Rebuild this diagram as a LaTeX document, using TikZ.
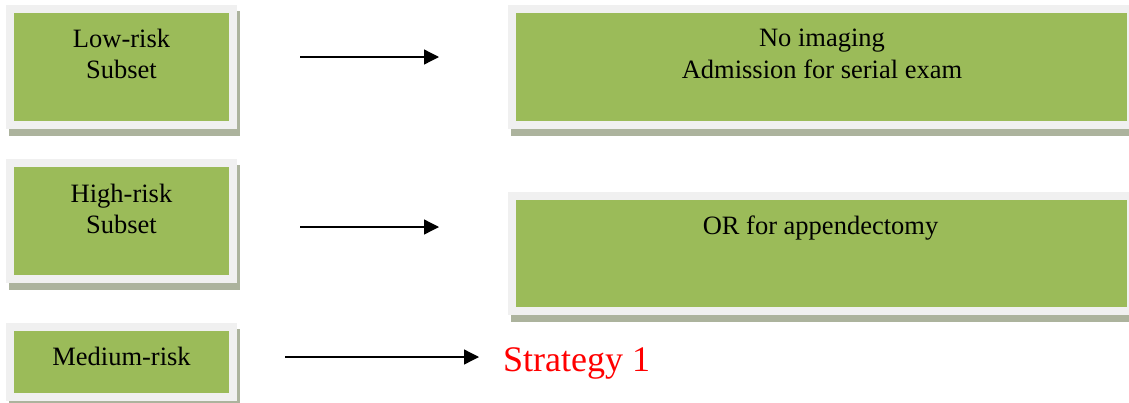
\documentclass[tikz,border=0pt]{standalone}
\usepackage{fontspec}
\setmainfont{Liberation Serif}
\usetikzlibrary{arrows.meta,calc}
\definecolor{boxgreen}{RGB}{155,187,89}
\definecolor{framegray}{RGB}{240,240,240}
\definecolor{shadowcol}{RGB}{172,179,157}
\definecolor{stratred}{RGB}{255,0,0}
\tikzset{
  gbox/.style={draw=framegray, fill=boxgreen, line width=8pt, rectangle, inner sep=0pt, outer sep=0pt},
  btext/.style={anchor=base, align=center, inner sep=0pt, font=\fontsize{26.5}{31.5}\selectfont},
  flow/.style={line width=1.3pt, -{Triangle[length=15pt,width=15pt]}}
}
\newcommand{\boxshadow}[1]{%
  \fill[shadowcol] ($(#1.north west)+(-1,2)$) rectangle ($(#1.south east)+(7,10.5)$);}
\begin{document}
\begin{tikzpicture}[x=1pt,y=-1pt]
\useasboundingbox (0,0) rectangle (1129,402);
% shadows first
\path (121.5,67) node[gbox, minimum width=223pt, minimum height=116pt, draw=none, fill=none] (lowS) {};
\path (821.5,67) node[gbox, minimum width=619pt, minimum height=116pt, draw=none, fill=none] (noimgS) {};
\path (121.5,221) node[gbox, minimum width=223pt, minimum height=116pt, draw=none, fill=none] (highS) {};
\path (821.5,253.5) node[gbox, minimum width=619pt, minimum height=115pt, draw=none, fill=none] (orS) {};
\path (121.5,362) node[gbox, minimum width=223pt, minimum height=70pt, draw=none, fill=none] (medS) {};
\boxshadow{lowS}
\boxshadow{noimgS}
\boxshadow{highS}
\boxshadow{orS}
\boxshadow{medS}
% boxes
\node[gbox, minimum width=223pt, minimum height=116pt] (low) at (121.5,67) {};
\node[gbox, minimum width=619pt, minimum height=116pt] (noimg) at (821.5,67) {};
\node[gbox, minimum width=223pt, minimum height=116pt] (high) at (121.5,221) {};
\node[gbox, minimum width=619pt, minimum height=115pt] (or) at (821.5,253.5) {};
\node[gbox, minimum width=223pt, minimum height=70pt] (med) at (121.5,362) {};
% texts (base anchor = baseline of last line)
\node[btext] (lowtxt) at (121.5,78.5) {Low-risk\\Subset};
\node[btext] (noimgtxt) at (822,78) {No imaging\\Admission for serial exam};
\node[btext] (hightxt) at (121.5,233.5) {High-risk\\Subset};
\node[btext] (ortxt) at (820.5,234) {OR for appendectomy};
\node[btext] (medtxt) at (121.5,365) {Medium-risk};
\node[anchor=base west, inner sep=0pt, text=stratred, font=\fontsize{36}{43}\selectfont] (strat) at (503,371) {Strategy 1};
% arrows
\coordinate (a1s) at (300,57);
\coordinate (a1e) at (439,57);
\coordinate (a2s) at (300,227);
\coordinate (a2e) at (439,227);
\coordinate (a3s) at (285,357);
\coordinate (a3e) at (479,357);
\draw[flow] (a1s) -- (a1e);
\draw[flow] (a2s) -- (a2e);
\draw[flow] (a3s) -- (a3e);
\end{tikzpicture}
\end{document}
